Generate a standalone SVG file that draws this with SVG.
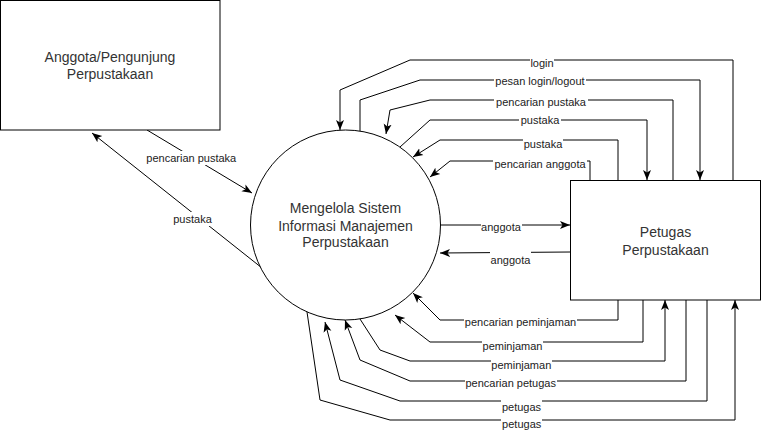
<svg xmlns="http://www.w3.org/2000/svg" width="761" height="430" viewBox="0 0 761 430">
<style>
.node{fill:#fff;stroke:#000;stroke-width:1}
.t{font-family:"Liberation Sans",Arial,sans-serif;font-size:14px;fill:#333;text-anchor:middle}
.e{fill:none;stroke:#000;stroke-width:1;marker-end:url(#arr)}
.bg{fill:#fff}
.lb{font-family:"Liberation Sans",Arial,sans-serif;font-size:11px;fill:#222;text-anchor:middle}
</style>
<defs>
<marker id="arr" viewBox="0 0 10 10" refX="10" refY="5" markerWidth="10" markerHeight="10" markerUnits="userSpaceOnUse" orient="auto">
<path d="M0,1 L10,5 L0,9 L2.5,5 Z" fill="#000"/>
</marker>
</defs>
<rect width="761" height="430" fill="#fff"/>
<g id="connectors">
<polyline class="e" points="733,180 733,60 410,60 340,90 340,130"/>
<polyline class="e" points="360,131 360,100 420,80 700,80 700,180"/>
<polyline class="e" points="673,180 673,100 430,100 390,110 386,134"/>
<polyline class="e" points="400,147 430,120 647,120 647,180"/>
<polyline class="e" points="618,180 618,140 440,140 413,157"/>
<polyline class="e" points="590,180 590,161 450,161 430,177"/>
<polyline class="e" points="441,225 570,225"/>
<polyline class="e" points="570,252 440,253"/>
<polyline class="e" points="618,300 618,320 440,320 413,293"/>
<polyline class="e" points="643,300 643,342 430,342 395,315"/>
<polyline class="e" points="360,319 380,350 410,361 665,361 665,300"/>
<polyline class="e" points="686,300 686,381 410,381 360,360 345,320"/>
<polyline class="e" points="707,300 707,401 400,401 340,380 325,322"/>
<polyline class="e" points="307,312 320,400 390,420 735,420 735,300"/>
<polyline class="e" points="147,130 252,193"/>
<polyline class="e" points="262,268 92,133"/>
<g id="labels">
<rect class="bg" x="530" y="56" width="24" height="14"/>
<text class="lb" x="542" y="67">login</text>
<rect class="bg" x="494" y="73.5" width="92" height="14"/>
<text class="lb" x="540" y="84.5">pesan login/logout</text>
<rect class="bg" x="494" y="94.5" width="94" height="14"/>
<text class="lb" x="541" y="105.5">pencarian pustaka</text>
<rect class="bg" x="519" y="113" width="42" height="14"/>
<text class="lb" x="540" y="124">pustaka</text>
<rect class="bg" x="523" y="137" width="40" height="14"/>
<text class="lb" x="543" y="148">pustaka</text>
<rect class="bg" x="493" y="157" width="94" height="14"/>
<text class="lb" x="540" y="168">pencarian anggota</text>
<rect class="bg" x="481" y="219.5" width="41" height="14"/>
<text class="lb" x="501" y="230.5">anggota</text>
<rect class="bg" x="490" y="251" width="41" height="14"/>
<text class="lb" x="510.5" y="264">anggota</text>
<rect class="bg" x="464" y="315" width="113" height="14"/>
<text class="lb" x="520.5" y="326">pencarian peminjaman</text>
<rect class="bg" x="482" y="339" width="61" height="14"/>
<text class="lb" x="512.5" y="350">peminjaman</text>
<rect class="bg" x="491" y="357.5" width="61" height="14"/>
<text class="lb" x="521.3" y="368.5">peminjaman</text>
<rect class="bg" x="465" y="376" width="92" height="14"/>
<text class="lb" x="510.7" y="387">pencarian petugas</text>
<rect class="bg" x="501" y="399.5" width="41" height="14"/>
<text class="lb" x="521.5" y="410.5">petugas</text>
<rect class="bg" x="501" y="416.5" width="41" height="13.5"/>
<text class="lb" x="521.7" y="427.5">petugas</text>
<rect class="bg" x="146" y="151" width="91" height="14"/>
<text class="lb" x="191.3" y="162">pencarian pustaka</text>
<rect class="bg" x="172" y="212" width="41" height="14"/>
<text class="lb" x="192.5" y="223">pustaka</text>
</g>
</g>
<g id="anggota">
<rect class="node" x="0.5" y="0.5" width="219.5" height="129.5"/>
<text class="t" x="110" y="62">Anggota/Pengunjung</text>
<text class="t" x="110" y="79">Perpustakaan</text>
</g>
<g id="proses">
<circle class="node" cx="345.5" cy="225" r="95"/>
<text class="t" x="345.5" y="213">Mengelola Sistem</text>
<text class="t" x="345.5" y="230.5">Informasi Manajemen</text>
<text class="t" x="345.5" y="247">Perpustakaan</text>
</g>
<g id="petugas">
<rect class="node" x="570.5" y="180.5" width="190" height="119.5"/>
<text class="t" x="665.5" y="237">Petugas</text>
<text class="t" x="665.5" y="255">Perpustakaan</text>
</g>
</svg>
